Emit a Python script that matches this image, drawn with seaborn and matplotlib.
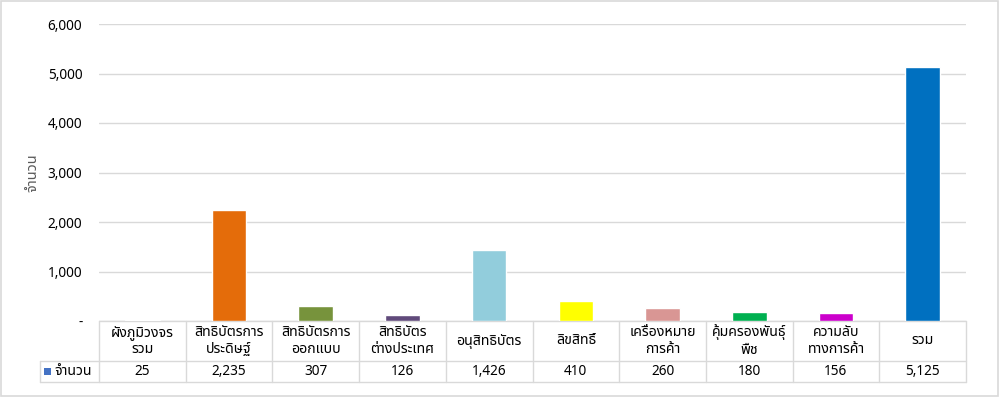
import matplotlib
matplotlib.use("Agg")
import matplotlib.pyplot as plt
import matplotlib.transforms as mtransforms
from matplotlib.patches import Rectangle
import seaborn as sns

categories = ["ผังภูมิวงจร\nรวม", "สิทธิบัตรการ\nประดิษฐ์", "สิทธิบัตรการ\nออกแบบ",
              "สิทธิบัตร\nต่างประเทศ", "อนุสิทธิบัตร", "ลิขสิทธิ์",
              "เครื่องหมาย\nการค้า", "คุ้มครองพันธุ์\nพืช", "ความลับ\nทางการค้า", "รวม"]
values = [25, 2235, 307, 126, 1426, 410, 260, 180, 156, 5125]
colors = ["#5B9BD5", "#E46C0A", "#77933C", "#604A7B", "#92CDDC",
          "#FFFF00", "#D99694", "#00B050", "#CC00CC", "#0070C0"]
series_name = "จำนวน"
yticks = [0, 1000, 2000, 3000, 4000, 5000, 6000]

sns.set_style("white")
plt.rcParams['font.family'] = ['Noto Sans Thai', 'Noto Sans', 'DejaVu Sans']
text_color = "#000000"
grid_color = "#D9D9D9"

fig = plt.figure(figsize=(10, 3.97), dpi=100)
ax = fig.add_axes([0.099, 1 - 321 / 397, 0.867, (321 - 24) / 397])

sns.barplot(x=categories, y=values, hue=categories, palette=colors, legend=False,
            width=0.4, saturation=1, ax=ax, zorder=3)
ax.set_xlim(-0.5, len(categories) - 0.5)
ax.set_ylim(0, 6000)
ax.set_yticks(yticks)
ax.set_yticklabels(["-" if v == 0 else f"{v:,}" for v in yticks], fontsize=9.8)
ax.tick_params(axis="y", length=0, pad=12, labelcolor=text_color)
ax.set_xticks([])
ax.set_xlabel("")
ax.set_ylabel(series_name, fontsize=10.5, color="#595959")
ax.yaxis.set_label_coords(-0.068, 0.5)
for s in ax.spines.values():
    s.set_visible(False)
ax.grid(axis="y", color=grid_color, linewidth=1)
ax.set_axisbelow(True)

# data table under the plot
trans = mtransforms.blended_transform_factory(ax.transData, ax.transAxes)
ax_h = 297.0
row1 = -40 / ax_h
row2 = -61 / ax_h
n = len(categories)
lw = 1
key_left = -1.18
line_kw = dict(color=grid_color, lw=lw, transform=trans, clip_on=False, zorder=1)
ax.plot([-0.5, n - 0.5], [0, 0], **line_kw)
ax.plot([key_left, n - 0.5], [row1, row1], **line_kw)
ax.plot([key_left, n - 0.5], [row2, row2], **line_kw)
for i in range(n + 1):
    ax.plot([i - 0.5, i - 0.5], [0, row2], **line_kw)
ax.plot([key_left, key_left], [row1, row2], **line_kw)

for i, (c, v) in enumerate(zip(categories, values)):
    ax.text(i, row1 / 2, c, ha="center", va="center", fontsize=10.2, color=text_color,
            linespacing=1.2, transform=trans, clip_on=False)
    ax.text(i, (row1 + row2) / 2, f"{v:,}", ha="center", va="center", fontsize=9.8,
            color=text_color, transform=trans, clip_on=False)

ax.add_patch(Rectangle((key_left + 0.05, (row1 + row2) / 2 - 3.5 / ax_h), 0.08, 7 / ax_h,
                       facecolor="#4472C4", edgecolor="none", transform=trans, clip_on=False))
ax.text(key_left + 0.17, (row1 + row2) / 2, series_name, ha="left", va="center",
        fontsize=10.2, color=text_color, transform=trans, clip_on=False)

fig.patches.append(Rectangle((0.001, 0.002), 0.997, 0.995, transform=fig.transFigure,
                             facecolor="none", edgecolor=grid_color, lw=1.2))

fig.savefig("out.png", dpi=100)
